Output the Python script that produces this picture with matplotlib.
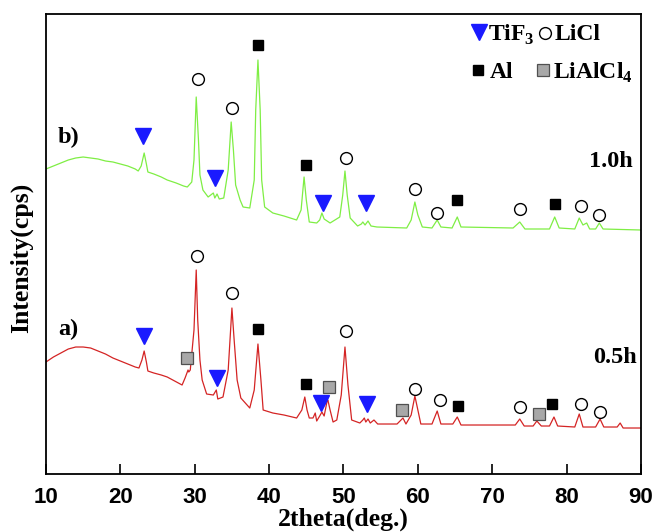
import matplotlib

matplotlib.use("Agg")
import matplotlib.pyplot as plt

# 2theta / intensity vertices (trace b)
theta_b = [10.0, 11.0, 12.0, 13.0, 14.0, 15.0, 16.0, 17.0, 18.0, 19.0, 20.0, 21.0, 22.0, 22.4,
           22.8, 23.2, 23.5, 23.7, 24.5, 25.5, 26.3, 27.5, 28.5, 29.0, 29.6,
           29.9, 30.2, 30.5, 30.7, 31.1, 31.8, 32.5, 32.7, 33.0, 33.3, 33.9, 34.5, 34.9, 35.2,
           35.5, 36.1, 36.5, 37.4, 38.0, 38.2, 38.5, 38.8, 39.0, 39.4, 40.5, 42.0, 43.7, 44.3, 44.7,
           45.0, 45.4, 46.4, 46.8, 47.1, 47.4, 48.2, 49.5, 49.9, 50.2, 50.5, 50.9, 51.9, 52.4,
           52.6, 52.9, 53.3, 53.7, 54.5, 58.5, 59.1, 59.6, 60.0, 60.6, 61.9, 62.6, 63.1, 64.6,
           65.3, 65.8, 72.8, 73.7, 74.4, 77.7, 78.4, 79.0, 81.1, 81.7, 82.2, 82.7, 83.1, 83.9,
           84.4, 84.9, 90.0]
counts_b = [305, 308, 311, 314, 316, 317, 316, 315, 313, 312, 310, 308, 305, 303,
            308, 321, 310, 302, 300, 297, 294, 291, 288, 287, 292,
            314, 377, 334, 299, 284, 277, 281, 276, 280, 275, 276, 304, 352, 324,
            289, 274, 267, 266, 294, 364, 414, 364, 294, 267, 261, 258, 254, 264, 297,
            274, 252, 251, 254, 261, 255, 251, 257, 279, 303, 279, 256, 248, 250,
            252, 249, 253, 248, 247, 246, 254, 272, 259, 247, 246, 254, 247, 246,
            257, 247, 246, 252, 245, 245, 257, 246, 245, 256, 249, 251, 245, 245,
            251, 245, 244]

# 0.5 h pattern (trace a)
theta_a = [10.0, 11.0, 12.0, 13.0, 14.0, 15.0, 16.0, 17.0, 18.0, 19.0, 20.0, 21.0, 22.0, 22.5,
           22.9, 23.2, 23.5, 23.7, 24.5, 25.5, 26.3, 27.3, 28.3, 28.7,
           29.1, 29.2, 29.4, 29.9, 30.2, 30.4, 30.7, 31.0, 31.6, 32.5, 32.9, 33.1, 33.8, 34.5,
           35.0, 35.3, 35.7, 36.2, 36.8, 37.4, 38.0, 38.5, 38.9, 39.2, 40.5, 42.0, 43.7, 44.4, 44.8,
           45.1, 45.4, 45.9, 46.2, 46.4, 46.8, 47.1, 47.4, 47.8, 47.9, 48.2, 48.6, 49.1, 49.7,
           50.2, 50.6, 51.1, 52.2, 52.6, 52.8, 53.0, 53.3, 53.6, 54.1, 54.6, 57.2, 57.6, 58.0,
           58.4, 59.1, 59.6, 60.0, 60.4, 61.9, 62.6, 63.1, 64.7, 65.3, 65.8, 73.1, 73.7, 74.3,
           75.5, 76.0, 76.6, 77.7, 78.3, 78.8, 81.1, 81.7, 82.2, 83.9, 84.5, 85.0, 86.8, 87.2,
           87.6, 90.0]
counts_a = [112, 117, 121, 125, 127, 127, 126, 123, 120, 116, 113, 110, 107, 106,
            114, 123, 112, 103, 101, 99, 97, 93, 89, 96,
            104, 102, 104, 144, 204, 154, 114, 94, 80, 79, 84, 75, 77, 104,
            166, 134, 94, 76, 71, 66, 84, 130, 94, 64, 61, 59, 56, 64, 77,
            64, 56, 56, 61, 53, 58, 62, 58, 73, 74, 64, 52, 54, 79,
            127, 89, 54, 51, 54, 56, 52, 55, 51, 54, 50, 50, 53, 56,
            50, 59, 78, 64, 50, 50, 63, 50, 50, 57, 49, 49, 55, 48,
            48, 53, 48, 48, 57, 48, 47, 60, 47, 47, 55, 47, 47, 51,
            46, 46]

# phase markers (2theta, height) for each pattern
tif3_b_x = [23.0, 32.7, 47.2, 53.0]
tif3_b_y = [338, 296, 271, 271]
licl_b_x = [30.4, 35.0, 50.4, 59.6, 62.6, 73.8, 82.0, 84.3]
licl_b_y = [395, 366, 316, 285, 261, 265, 268, 259]
al_b_x = [38.5, 44.9, 65.2, 78.5]
al_b_y = [429, 309, 274, 270]

tif3_a_x = [23.2, 33.0, 47.0, 53.2]
tif3_a_y = [138, 96, 71, 70]
lialcl4_a_x = [28.9, 48.0, 57.9, 76.3]
lialcl4_a_y = [116, 87, 64, 60]
licl_a_x = [30.3, 35.0, 50.3, 59.6, 63.0, 73.8, 81.9, 84.5]
licl_a_y = [218, 181, 143, 85, 74, 67, 70, 62]
al_a_x = [38.5, 44.9, 65.4, 78.1]
al_a_y = [145, 90, 68, 70]

x_ticks = [10, 20, 30, 40, 50, 60, 70, 80, 90]

serif = "Liberation Serif"
tri = dict(marker="v", ms=12, color="#1a1aff", ls="none")
circ = dict(marker="o", ms=8.5, mfc="white", mec="black", mew=1.0, ls="none")
sq_al = dict(marker="s", ms=7.5, color="black", ls="none")
sq_lialcl4 = dict(marker="s", ms=8, mfc="#a8a8a8", mec="#505050", mew=0.9, ls="none")

fig = plt.figure(figsize=(6.56, 5.32), dpi=100)
ax = fig.add_axes([0.0701, 0.109, 0.907, 0.8647])

ax.plot(theta_b, counts_b, color="#7fee44", lw=0.9)
ax.plot(theta_a, counts_a, color="#d42424", lw=0.9)

ax.plot(tif3_b_x, tif3_b_y, **tri)
ax.plot(licl_b_x, licl_b_y, **circ)
ax.plot(al_b_x, al_b_y, **sq_al)
ax.plot(tif3_a_x, tif3_a_y, **tri)
ax.plot(lialcl4_a_x, lialcl4_a_y, **sq_lialcl4)
ax.plot(licl_a_x, licl_a_y, **circ)
ax.plot(al_a_x, al_a_y, **sq_al)

lab = dict(fontfamily=serif, fontweight="bold", fontsize=17.5)
ax.text(13.0, 337, "b)", ha="center", va="center", **lab)
ax.text(13.0, 145, "a)", ha="center", va="center", **lab)
ax.text(88.9, 312, "1.0h", ha="right", va="center", **lab)
ax.text(89.5, 117, "0.5h", ha="right", va="center", **lab)

# hand-placed key in the top right corner
tr = ax.transAxes
ax.plot([0.728], [0.961], transform=tr, clip_on=False, **tri)
ax.plot([0.839], [0.959], transform=tr, clip_on=False, **circ)
ax.plot([0.726], [0.878], transform=tr, clip_on=False, **sq_al)
ax.plot([0.835], [0.878], transform=tr, clip_on=False, **sq_lialcl4)
key = dict(fontfamily=serif, fontweight="bold", fontsize=17, va="center", transform=tr)
ax.text(0.743, 0.955, r"TiF$_\mathregular{3}$", **key)
ax.text(0.855, 0.955, "LiCl", **key)
ax.text(0.746, 0.872, "Al", **key)
ax.text(0.852, 0.872, r"LiAlCl$_\mathregular{4}$", **key)

ax.set_xlim(10, 90)
ax.set_ylim(0, 460)
ax.set_xticks(x_ticks)
ax.set_yticks([])
ax.tick_params(axis="x", direction="in", length=7, width=1.2, pad=9)
for t in ax.get_xticklabels():
    t.set_fontfamily("Liberation Sans")
    t.set_fontweight("bold")
    t.set_fontsize(16)
for s in ax.spines.values():
    s.set_linewidth(1.3)

ax.set_xlabel("2theta(deg.)", fontfamily=serif, fontweight="bold", fontsize=18.5, labelpad=0)
ax.set_ylabel("Intensity(cps)", fontfamily=serif, fontweight="bold", fontsize=18.5)
ax.yaxis.set_label_coords(-0.021, 0.47)

fig.savefig("out.png", dpi=100)
